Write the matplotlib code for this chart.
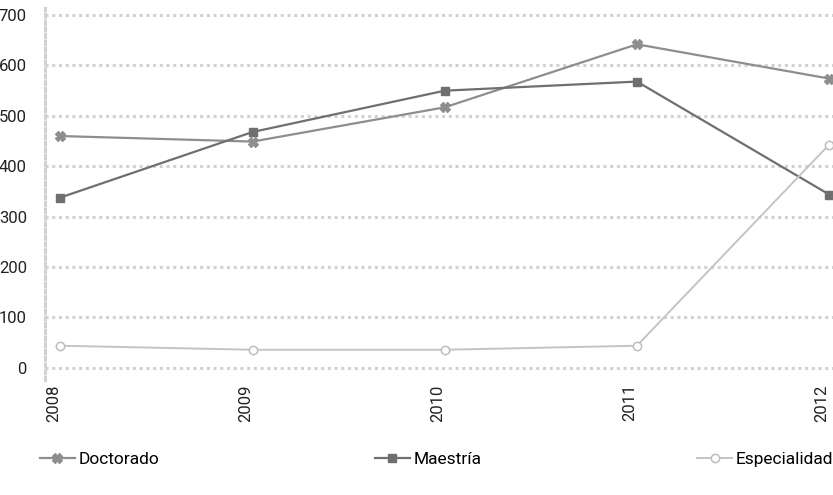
import matplotlib.pyplot as plt
from matplotlib.transforms import ScaledTranslation

years = [2008, 2009, 2010, 2011, 2012]
doctorado = [460, 449, 517, 642, 574]
maestria = [338, 468, 550, 568, 344]
especialidad = [44, 36, 36, 44, 443]
yticks = [0, 100, 200, 300, 400, 500, 600, 700]

plt.rcParams['font.family'] = ['Roboto', 'DejaVu Sans']

fig = plt.figure(figsize=(8.33, 4.95), dpi=100)
ax = fig.add_axes([45 / 833, 1 - 380 / 495, (833 - 45) / 833, (380 - 8) / 495])

grid_c = '#d2d2d2'
ax.plot(years, doctorado, color='#8e8e8e', lw=1.6, marker='X', ms=7,
        mec='#8e8e8e', mfc='#8e8e8e', label='Doctorado', zorder=3)
ax.plot(years, maestria, color='#6f6f6f', lw=1.6, marker='s', ms=6,
        mec='#6f6f6f', mfc='#6f6f6f', label='Maestría', zorder=3)
ax.plot(years, especialidad, color='#c4c4c4', lw=1.4, marker='o', ms=6,
        mec='#bdbdbd', mfc='white', mew=1.1, label='Especialidad', zorder=3)

ax.set_xlim(2007.92, 2012.02)
ax.set_ylim(-24, 714)
ax.set_yticks(yticks)
ax.set_xticks(years)
ax.set_xticklabels([str(y) for y in years], rotation=90, fontsize=12, color='#222222')
ax.set_yticklabels([str(v) for v in yticks], fontsize=12, color='#222222')
ax.tick_params(axis='x', length=0, pad=3)
ax.tick_params(axis='y', length=0, pad=13)
# labels sit a little left of their tick in the original
shift = ScaledTranslation(-7 / 100, 0, fig.dpi_scale_trans)
for lab in ax.get_xticklabels():
    lab.set_transform(lab.get_transform() + shift)

ax.grid(axis='y', color=grid_c, lw=2.2, linestyle=(0, (1, 1.2)))
ax.set_axisbelow(True)
for s in ['top', 'right', 'bottom']:
    ax.spines[s].set_visible(False)
ax.spines['left'].set_color(grid_c)
ax.spines['left'].set_linewidth(2.2)
ax.spines['left'].set_linestyle((0, (1, 1.2)))

fig.legend(loc='lower left', bbox_to_anchor=(40 / 833, 28 / 495, (833 - 40) / 833, 0.05),
           ncol=3, mode='expand', frameon=False, fontsize=12.5, handlelength=2.0,
           handletextpad=0.2, borderaxespad=0, borderpad=0)

fig.savefig('out.png', dpi=100, facecolor='white')
